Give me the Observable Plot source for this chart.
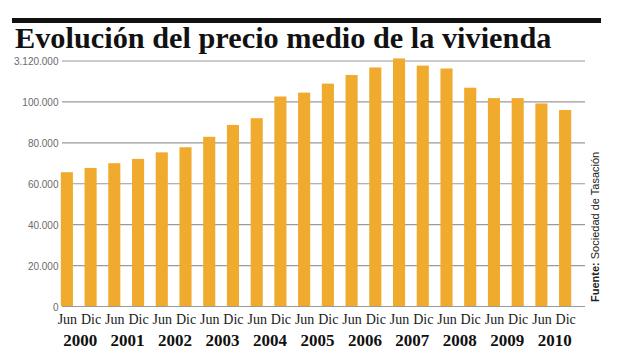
<!DOCTYPE html>
<html>
<head>
<meta charset="utf-8">
<script src="https://cdn.jsdelivr.net/npm/d3@7"></script>
<script src="https://cdn.jsdelivr.net/npm/@observablehq/plot@0.6"></script>
<style>
  html, body { margin: 0; padding: 0; background: #fff; }
  #wrap { position: relative; width: 644px; height: 362px; overflow: hidden; background: #fff; }
  #bar { position: absolute; left: 12px; top: 18px; width: 589px; height: 5px; background: #111; }
  #title { position: absolute; left: 15px; top: 26px; margin: 0; font-family: "Liberation Serif", "DejaVu Serif", serif; font-weight: bold; font-size: 30.3px; line-height: 24px; height: 24px; color: #111; white-space: nowrap; }
  #chart { position: absolute; left: 0; top: 0; }
</style>
</head>
<body>
<div id="wrap">
  <div id="chart"></div>
  <div id="bar"></div>
  <h1 id="title">Evolución del precio medio de la vivienda</h1>
</div>
<script>
// Data
const periods = ["Jun","Dic","Jun","Dic","Jun","Dic","Jun","Dic","Jun","Dic","Jun","Dic","Jun","Dic","Jun","Dic","Jun","Dic","Jun","Dic","Jun","Dic"];
const years = ["2000","2000","2001","2001","2002","2002","2003","2003","2004","2004","2005","2005","2006","2006","2007","2007","2008","2008","2009","2009","2010","2010"];
const prices = [65400, 67500, 69800, 71900, 75100, 77600, 82700, 88500, 91800, 102400, 104300, 108700, 112900, 116600, 121000, 117500, 116100, 106700, 101600, 101600, 99000, 95800];
const yearLabels = ["2000","2001","2002","2003","2004","2005","2006","2007","2008","2009","2010"];
const yTicks = [0, 20000, 40000, 60000, 80000, 100000, 120000];
const yTickLabels = ["0","20.000","40.000","60.000","80.000","100.000","3.120.000"];
const sourceLabel = "Fuente:";
const source = "Sociedad de Tasación";

const rows = periods.map((p, i) => ({key: p + " " + years[i], period: p, year: years[i], price: prices[i]}));
const keys = rows.map(d => d.key);
const yearRows = yearLabels.map(y => ({key: "Jun " + y, year: y}));

const sansNarrow = "'Liberation Sans Narrow', 'Arial Narrow', 'Liberation Sans', sans-serif";
const serif = "'Liberation Serif', 'DejaVu Serif', serif";

const chart = Plot.plot({
  width: 644,
  height: 362,
  marginLeft: 62,
  marginRight: 59,
  marginTop: 60,
  marginBottom: 56,
  style: {background: "transparent", overflow: "visible"},
  x: {domain: keys, range: [55, 577], paddingInner: 0.49, paddingOuter: 0.245, round: false, label: null},
  y: {domain: [0, 120000], range: [306, 60.5], label: null},
  marks: [
    Plot.ruleY(yTicks, {stroke: "#9a9a9a", strokeWidth: 1.2}),
    Plot.barY(rows, {x: "key", y: "price", fill: "#F0AA2E"}),
    Plot.axisY({
      ticks: yTicks,
      tickFormat: d => yTickLabels[yTicks.indexOf(d)],
      tickSize: 0,
      tickPadding: 4,
      dy: 1,
      fontSize: 10,
      fontFamily: sansNarrow,
      fill: "#6a6a6a",
      label: null
    }),
    Plot.axisX({
      tickSize: 0,
      tickPadding: 8,
      tickFormat: k => k.split(" ")[0],
      fontSize: 14,
      fontFamily: serif,
      fill: "#1a1a1a",
      label: null
    }),
    Plot.text(yearRows, {
      x: "key",
      text: "year",
      frameAnchor: "bottom",
      dx: 12.8,
      dy: 39,
      fontSize: 17,
      fontWeight: "bold",
      fontFamily: serif,
      fill: "#111",
      letterSpacing: 1.6
    })
  ]
});
document.getElementById("chart").appendChild(chart);

// Vertical source note (bold "Fuente:" + plain text)
const svg = d3.select(chart);
const t = svg.append("text")
  .attr("transform", "translate(599,302) rotate(-90)")
  .attr("font-family", sansNarrow)
  .attr("font-size", 11)
  .attr("fill", "#222")
  .attr("text-anchor", "start");
t.append("tspan").attr("font-weight", "bold").text(sourceLabel + " ");
t.append("tspan").text(source);
</script>
</body>
</html>
